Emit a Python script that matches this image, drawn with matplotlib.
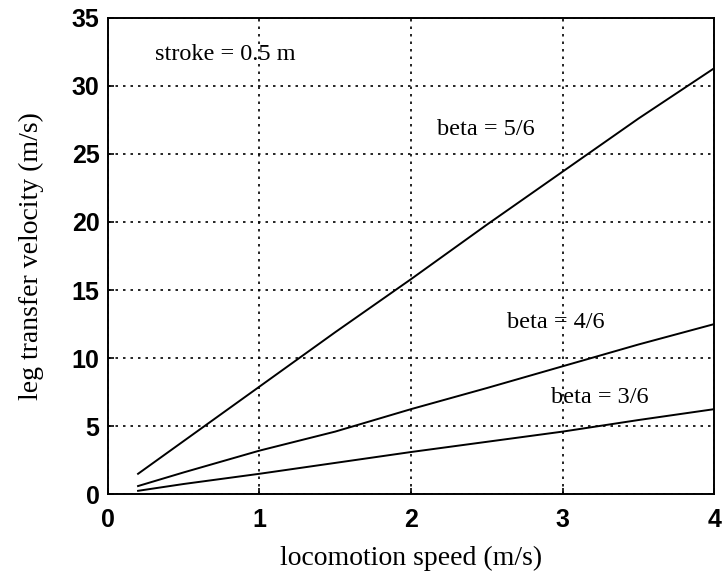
"""Leg transfer velocity vs locomotion speed for three duty factors."""

import matplotlib

matplotlib.use("Agg")
import matplotlib.pyplot as plt

# values
speed = [0.2, 0.5, 1.0, 1.5, 2.0, 2.5, 3.0, 3.5, 4.0]
beta_56 = [1.5, 3.9, 7.9, 11.9, 15.8, 19.8, 23.7, 27.6, 31.3]
beta_46 = [0.6, 1.6, 3.2, 4.6, 6.25, 7.8, 9.4, 11.0, 12.5]
beta_36 = [0.25, 0.75, 1.5, 2.3, 3.1, 3.85, 4.6, 5.45, 6.25]

labels = ["beta = 5/6", "beta = 4/6", "beta = 3/6"]
label_pos = [(2.17, 26.8), (2.63, 12.6), (2.92, 7.1)]

xticks = [0, 1, 2, 3, 4]
yticks = [0, 5, 10, 15, 20, 25, 30, 35]

serif = "Liberation Serif"
sans = "Liberation Sans"

fig = plt.figure(figsize=(7.23, 5.74), dpi=100)
ax = fig.add_axes([0.149, 0.139, 0.839, 0.830])

for series in (beta_56, beta_46, beta_36):
    ax.plot(speed, series, color="black", linewidth=1.4)

for text, (x, y) in zip(labels, label_pos):
    ax.text(x, y, text, fontsize=17.5, family=serif, va="center", ha="left")
ax.text(0.31, 32.3, "stroke = 0.5 m", fontsize=17.5, family=serif, va="center", ha="left")

ax.set_xlim(0, 4)
ax.set_ylim(0, 35)
ax.set_xticks(xticks)
ax.set_yticks(yticks)
ax.set_xticklabels([str(t) for t in xticks], fontsize=18, fontweight="bold", family=sans)
ax.set_yticklabels([str(t) for t in yticks], fontsize=18, fontweight="bold", family=sans)
ax.tick_params(axis="x", direction="in", length=4, width=1.2, pad=10)
ax.tick_params(axis="y", direction="in", length=4, width=1.2, pad=6)
ax.grid(True, color="black", linestyle=(0, (1.5, 3)), linewidth=1.2)
for spine in ax.spines.values():
    spine.set_linewidth(1.4)

ax.set_xlabel("locomotion speed (m/s)", fontsize=20, family=serif, labelpad=10)
ax.set_ylabel("leg transfer velocity (m/s)", fontsize=20, family=serif, labelpad=20)

fig.savefig("out.png", dpi=100)
